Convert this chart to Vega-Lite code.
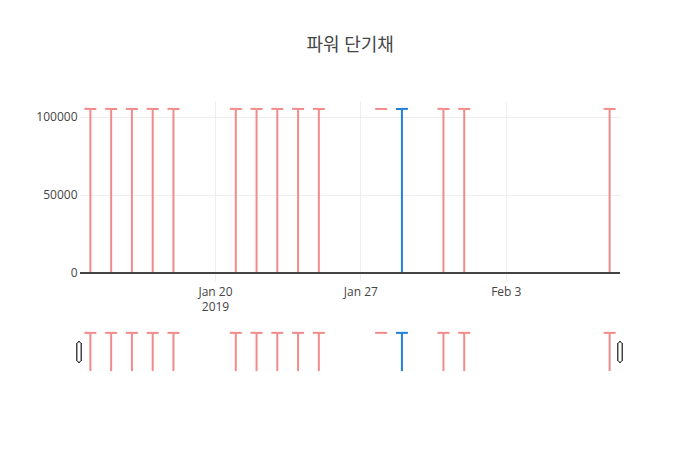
{
  "$schema": "https://vega.github.io/schema/vega-lite/v6.json",
  "title": {
    "text": "파워 단기채",
    "fontSize": 18,
    "font": "Open Sans, Noto Sans CJK KR",
    "fontWeight": "normal",
    "color": "#444",
    "anchor": "middle",
    "dx": 21,
    "offset": 46
  },
  "padding": {"left": 35, "top": 37, "right": 80, "bottom": 10},
  "background": "white",
  "data": {
    "values": [
      {"date": "2019-01-14", "open": 105200, "high": 105200, "low": 0, "close": 105100},
      {"date": "2019-01-15", "open": 105200, "high": 105200, "low": 0, "close": 105100},
      {"date": "2019-01-16", "open": 105200, "high": 105200, "low": 0, "close": 105100},
      {"date": "2019-01-17", "open": 105200, "high": 105200, "low": 0, "close": 105100},
      {"date": "2019-01-18", "open": 105200, "high": 105200, "low": 0, "close": 105100},
      {"date": "2019-01-21", "open": 105200, "high": 105200, "low": 0, "close": 105100},
      {"date": "2019-01-22", "open": 105200, "high": 105200, "low": 0, "close": 105100},
      {"date": "2019-01-23", "open": 105200, "high": 105200, "low": 0, "close": 105100},
      {"date": "2019-01-24", "open": 105200, "high": 105200, "low": 0, "close": 105100},
      {"date": "2019-01-25", "open": 105200, "high": 105200, "low": 0, "close": 105100},
      {"date": "2019-01-28", "open": 105150, "high": 105150, "low": 105100, "close": 105100},
      {"date": "2019-01-29", "open": 105100, "high": 105200, "low": 0, "close": 105200},
      {"date": "2019-01-31", "open": 105200, "high": 105200, "low": 0, "close": 105100},
      {"date": "2019-02-01", "open": 105200, "high": 105200, "low": 0, "close": 105100},
      {"date": "2019-02-08", "open": 105200, "high": 105200, "low": 0, "close": 105100}
    ]
  },
  "spacing": 19,
  "vconcat": [
    {
      "width": 540,
      "height": 180,
      "layer": [
        {
          "mark": {"type": "rule", "strokeWidth": 2},
          "encoding": {
            "x": {
              "field": "date",
              "type": "temporal",
              "scale": {
                "type": "utc",
                "nice": false,
                "padding": 0,
                "domain": [
                  {"year": 2019, "month": 1, "date": 13, "hours": 12, "utc": true},
                  {"year": 2019, "month": 2, "date": 8, "hours": 12, "utc": true}
                ]
              },
              "axis": {
                "title": null,
                "grid": true,
                "gridColor": "#eeeeee",
                "values": [
                  {"year": 2019, "month": 1, "date": 20, "utc": true},
                  {"year": 2019, "month": 1, "date": 27, "utc": true},
                  {"year": 2019, "month": 2, "date": 3, "utc": true}
                ],
                "labelExpr": "utcdate(datum.value) == 20 && utcmonth(datum.value) == 0 ? [utcFormat(datum.value, '%b %-d'), '2019'] : utcFormat(datum.value, '%b %-d')",
                "labelPadding": 5,
                "labelLineHeight": 15
              }
            },
            "y": {
              "field": "low",
              "type": "quantitative",
              "scale": {"domain": [-5250, 110250], "nice": false, "zero": false},
              "axis": {
                "title": null,
                "values": [0, 50000, 100000],
                "format": "d",
                "grid": true,
                "gridColor": "#eeeeee",
                "labelPadding": 3
              }
            },
            "y2": {"field": "high"},
            "color": {
              "condition": {"test": "datum.close > datum.open", "value": "#1f7fd9"},
              "value": "#f38a8a"
            }
          }
        },
        {
          "mark": {"type": "tick", "orient": "horizontal", "size": 6, "thickness": 2, "xOffset": -3, "opacity": 1},
          "encoding": {
            "x": {"field": "date", "type": "temporal"},
            "y": {"field": "open", "type": "quantitative"},
            "color": {
              "condition": {"test": "datum.close > datum.open", "value": "#1f7fd9"},
              "value": "#f38a8a"
            }
          }
        },
        {
          "mark": {"type": "tick", "orient": "horizontal", "size": 6, "thickness": 2, "xOffset": 3, "opacity": 1},
          "encoding": {
            "x": {"field": "date", "type": "temporal"},
            "y": {"field": "close", "type": "quantitative"},
            "color": {
              "condition": {"test": "datum.close > datum.open", "value": "#1f7fd9"},
              "value": "#f38a8a"
            }
          }
        },
        {
          "mark": {"type": "rule", "color": "#444444", "strokeWidth": 1},
          "encoding": {"y": {"datum": 0, "type": "quantitative"}}
        }
      ]
    },
    {
      "width": 540,
      "height": 42,
      "layer": [
        {
          "mark": {"type": "rule", "strokeWidth": 2},
          "encoding": {
            "x": {
              "field": "date",
              "type": "temporal",
              "scale": {
                "type": "utc",
                "nice": false,
                "padding": 0,
                "domain": [
                  {"year": 2019, "month": 1, "date": 13, "hours": 12, "utc": true},
                  {"year": 2019, "month": 2, "date": 8, "hours": 12, "utc": true}
                ]
              },
              "axis": null
            },
            "y": {
              "field": "low",
              "type": "quantitative",
              "scale": {"domain": [-5250, 110250], "nice": false, "zero": false},
              "axis": null
            },
            "y2": {"field": "high"},
            "color": {
              "condition": {"test": "datum.close > datum.open", "value": "#1f7fd9"},
              "value": "#f38a8a"
            }
          }
        },
        {
          "mark": {"type": "tick", "orient": "horizontal", "size": 6, "thickness": 2, "xOffset": -3, "opacity": 1},
          "encoding": {
            "x": {"field": "date", "type": "temporal"},
            "y": {"field": "open", "type": "quantitative"},
            "color": {
              "condition": {"test": "datum.close > datum.open", "value": "#1f7fd9"},
              "value": "#f38a8a"
            }
          }
        },
        {
          "mark": {"type": "tick", "orient": "horizontal", "size": 6, "thickness": 2, "xOffset": 3, "opacity": 1},
          "encoding": {
            "x": {"field": "date", "type": "temporal"},
            "y": {"field": "close", "type": "quantitative"},
            "color": {
              "condition": {"test": "datum.close > datum.open", "value": "#1f7fd9"},
              "value": "#f38a8a"
            }
          }
        },
        {
          "mark": {"type": "tick", "orient": "vertical", "size": 20, "thickness": 4, "cornerRadius": 2, "fill": "white", "stroke": "#444444", "strokeWidth": 1, "opacity": 1, "xOffset": -1},
          "encoding": {
            "x": {"datum": {"year": 2019, "month": 1, "date": 13, "hours": 12, "utc": true}, "type": "temporal"},
            "y": {"datum": 52500, "type": "quantitative"}
          }
        },
        {
          "mark": {"type": "tick", "orient": "vertical", "size": 20, "thickness": 4, "cornerRadius": 2, "fill": "white", "stroke": "#444444", "strokeWidth": 1, "opacity": 1},
          "encoding": {
            "x": {"datum": {"year": 2019, "month": 2, "date": 8, "hours": 12, "utc": true}, "type": "temporal"},
            "y": {"datum": 52500, "type": "quantitative"}
          }
        }
      ]
    }
  ],
  "config": {
    "view": {"stroke": null},
    "font": "Open Sans",
    "axis": {
      "domain": false,
      "ticks": false,
      "labelFont": "Open Sans",
      "labelFontSize": 12,
      "labelColor": "#444444"
    }
  }
}
